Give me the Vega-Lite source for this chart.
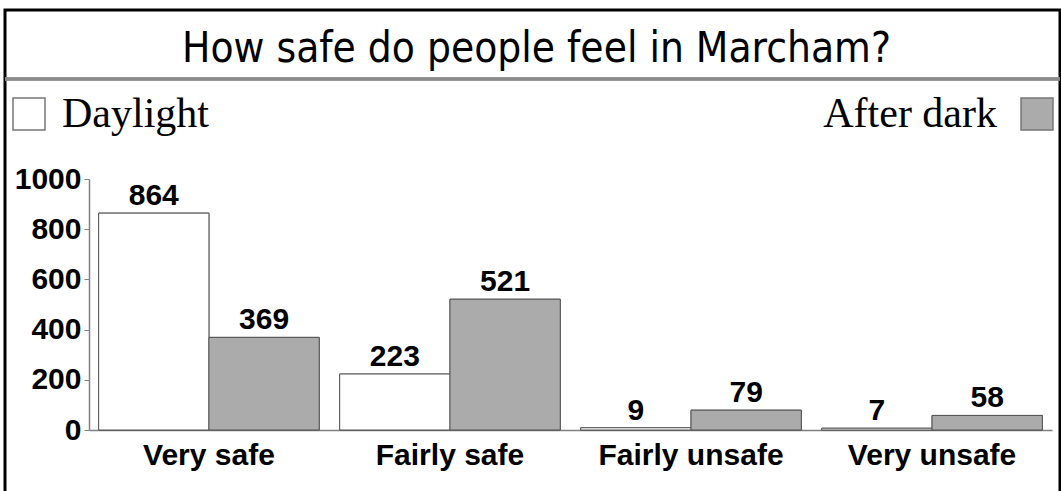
{
  "$schema": "https://vega.github.io/schema/vega-lite/v6.json",
  "autosize": "none",
  "width": 1055,
  "height": 490,
  "padding": {"left": 5, "top": 10, "right": 1, "bottom": 0},
  "background": "white",
  "title": {
    "text": "How safe do people feel in Marcham?",
    "font": "DejaVu Sans Condensed",
    "fontSize": 42,
    "fontWeight": "normal",
    "color": "black",
    "offset": -61,
    "dx": 4
  },
  "config": {"view": {"stroke": "black", "strokeWidth": 3}},
  "data": {
    "values": [
      {"category": "Very safe", "period": "Daylight", "count": 864},
      {"category": "Very safe", "period": "After dark", "count": 369},
      {"category": "Fairly safe", "period": "Daylight", "count": 223},
      {"category": "Fairly safe", "period": "After dark", "count": 521},
      {"category": "Fairly unsafe", "period": "Daylight", "count": 9},
      {"category": "Fairly unsafe", "period": "After dark", "count": 79},
      {"category": "Very unsafe", "period": "Daylight", "count": 7},
      {"category": "Very unsafe", "period": "After dark", "count": 58}
    ]
  },
  "resolve": {"scale": {"fill": "independent"}, "legend": {"fill": "independent"}},
  "layer": [
    {
      "mark": {"type": "bar", "stroke": "#555", "strokeWidth": 1},
      "encoding": {
        "x": {
          "field": "category",
          "type": "nominal",
          "sort": ["Very safe", "Fairly safe", "Fairly unsafe", "Very unsafe"],
          "scale": {"range": [84, 1047], "paddingInner": 0.085, "paddingOuter": 0.04},
          "axis": {
            "title": null,
            "labelAngle": 0,
            "ticks": false,
            "offset": -70,
            "domainColor": "#808080",
            "domainWidth": 1.5,
            "labelFont": "Liberation Sans",
            "labelFontWeight": "bold",
            "labelFontSize": 30,
            "labelColor": "black",
            "labelPadding": 10,
            "labelLimit": 0
          }
        },
        "xOffset": {
          "field": "period",
          "type": "nominal",
          "sort": ["Daylight", "After dark"],
          "scale": {"paddingInner": 0, "paddingOuter": 0}
        },
        "y": {
          "field": "count",
          "type": "quantitative",
          "scale": {"domain": [0, 1000], "range": [420, 169], "nice": false, "zero": true},
          "axis": {
            "title": null,
            "offset": -84,
            "values": [0, 200, 400, 600, 800, 1000],
            "format": "d",
            "grid": false,
            "tickSize": 5,
            "tickColor": "#808080",
            "domainColor": "#808080",
            "domainWidth": 1.5,
            "labelFont": "Liberation Sans",
            "labelFontWeight": "bold",
            "labelFontSize": 30,
            "labelColor": "black",
            "labelPadding": 3
          }
        },
        "fill": {
          "field": "period",
          "type": "nominal",
          "scale": {"domain": ["Daylight", "After dark"], "range": ["white", "#ababab"]},
          "legend": {
            "values": ["Daylight"],
            "orient": "none",
            "legendX": 3,
            "legendY": 83,
            "title": null,
            "padding": 0,
            "symbolType": "square",
            "symbolSize": 1024,
            "symbolStrokeColor": "#777",
            "symbolStrokeWidth": 1.5,
            "labelFont": "Liberation Serif",
            "labelFontSize": 42,
            "labelColor": "black",
            "labelOffset": 12,
            "labelLimit": 0,
            "encode": {
              "symbols": {"update": {"stroke": {"value": "#777"}, "strokeWidth": {"value": 1.5}}}
            }
          }
        }
      }
    },
    {
      "mark": {"type": "bar", "stroke": "#555", "strokeWidth": 1},
      "encoding": {
        "x": {"field": "category", "type": "nominal", "sort": ["Very safe", "Fairly safe", "Fairly unsafe", "Very unsafe"]},
        "xOffset": {"field": "period", "type": "nominal", "sort": ["Daylight", "After dark"]},
        "y": {"field": "count", "type": "quantitative"},
        "fill": {
          "field": "period",
          "type": "nominal",
          "scale": {"domain": ["After dark", "Daylight"], "range": ["#ababab", "white"]},
          "legend": {
            "values": ["After dark"],
            "orient": "none",
            "legendX": 1011,
            "legendY": 83,
            "title": null,
            "padding": 0,
            "symbolType": "square",
            "symbolSize": 1024,
            "symbolStrokeColor": "#777",
            "symbolStrokeWidth": 1.5,
            "labelFont": "Liberation Serif",
            "labelFontSize": 42,
            "labelColor": "black",
            "labelAlign": "right",
            "labelOffset": -61,
            "labelLimit": 0,
            "encode": {
              "symbols": {"update": {"stroke": {"value": "#777"}, "strokeWidth": {"value": 1.5}}}
            }
          }
        }
      }
    },
    {
      "mark": {
        "type": "text",
        "baseline": "alphabetic",
        "dy": -8,
        "font": "Liberation Sans",
        "fontWeight": "bold",
        "fontSize": 30,
        "color": "black"
      },
      "encoding": {
        "x": {"field": "category", "type": "nominal", "sort": ["Very safe", "Fairly safe", "Fairly unsafe", "Very unsafe"]},
        "xOffset": {"field": "period", "type": "nominal", "sort": ["Daylight", "After dark"]},
        "y": {"field": "count", "type": "quantitative"},
        "text": {"field": "count", "type": "quantitative"}
      }
    },
    {
      "mark": {"type": "rule", "color": "#8a8a8a", "strokeWidth": 2.5},
      "encoding": {"y": {"datum": 1398, "type": "quantitative"}}
    }
  ]
}
